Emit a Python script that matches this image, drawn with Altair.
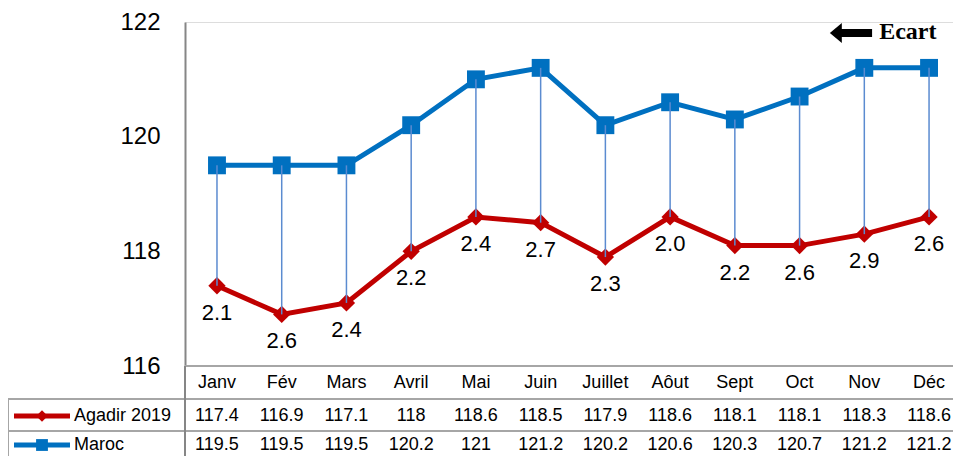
import altair as alt
import pandas as pd

months = ["Janv", "Fév", "Mars", "Avril", "Mai", "Juin", "Juillet", "Aôut", "Sept", "Oct", "Nov", "Déc"]
agadir = [117.4, 116.9, 117.1, 118, 118.6, 118.5, 117.9, 118.6, 118.1, 118.1, 118.3, 118.6]
maroc = [119.5, 119.5, 119.5, 120.2, 121, 121.2, 120.2, 120.6, 120.3, 120.7, 121.2, 121.2]
ecart = ["2.1", "2.6", "2.4", "2.2", "2.4", "2.7", "2.3", "2.0", "2.2", "2.6", "2.9", "2.6"]
series_names = ["Agadir 2019", "Maroc"]
y_ticks = [116, 118, 120, 122]

RED = "#C00000"
BLUE = "#0070C0"
DROP = "#5B8BD0"
GRID = "#A6A6A6"
AXIS = "#868686"
FONT = "Liberation Sans"

W, H = 768, 344
X_DOM = [-0.494, 11.37]
Y_DOM = [116, 122]

ROW_MONTH, ROW_AG, ROW_MA = 361, 394, 423
LINE1, LINE2 = 377, 409

df = pd.DataFrame({
    "idx": list(range(len(months))),
    "month": months,
    "agadir": agadir,
    "maroc": maroc,
    "ecart": ecart,
    "agadir_lbl": [f"{v:g}" for v in agadir],
    "maroc_lbl": [f"{v:g}" for v in maroc],
})

xs = alt.Scale(domain=X_DOM, nice=False, zero=False)
ys = alt.Scale(domain=Y_DOM, nice=False, zero=False)
X = alt.X("idx:Q", scale=xs, axis=None)

base = alt.Chart(df)

y_axis = alt.Axis(values=y_ticks, format="d", domain=True, domainColor=AXIS, domainWidth=2,
                  ticks=False, grid=False, labelFontSize=24, labelFont=FONT,
                  labelColor="#000000", labelPadding=25, title=None)

line_m = base.mark_line(color=BLUE, strokeWidth=5).encode(
    x=X, y=alt.Y("maroc:Q", scale=ys, axis=y_axis))
pts_m = base.mark_point(shape="square", filled=True, size=320, color=BLUE, opacity=1).encode(
    x=X, y=alt.Y("maroc:Q", scale=ys))
line_a = base.mark_line(color=RED, strokeWidth=5).encode(
    x=X, y=alt.Y("agadir:Q", scale=ys))
pts_a = base.mark_point(shape="diamond", filled=True, size=300, color=RED, opacity=1).encode(
    x=X, y=alt.Y("agadir:Q", scale=ys))
drops = base.mark_rule(color=DROP, strokeWidth=1.5).encode(
    x=X, y=alt.Y("maroc:Q", scale=ys), y2="agadir:Q")
labels = base.mark_text(dy=27, fontSize=22, font=FONT, color="#000000").encode(
    x=X, y=alt.Y("agadir:Q", scale=ys), text="ecart:N")

# table texts
t_month = base.mark_text(fontSize=18, font=FONT, color="#000000").encode(
    x=X, y=alt.value(ROW_MONTH), text="month:N")
t_ag = base.mark_text(fontSize=18, font=FONT, color="#000000").encode(
    x=X, y=alt.value(ROW_AG), text="agadir_lbl:N")
t_ma = base.mark_text(fontSize=18, font=FONT, color="#000000").encode(
    x=X, y=alt.value(ROW_MA), text="maroc_lbl:N")

one = alt.Chart(pd.DataFrame({"a": [0]}))

def hline(x1, x2, y, color=GRID, w=2):
    return one.mark_rule(color=color, strokeWidth=w).encode(
        x=alt.value(x1), x2=alt.value(x2), y=alt.value(y))

def vline(x, y1, y2, color=GRID, w=2):
    return one.mark_rule(color=color, strokeWidth=w).encode(
        x=alt.value(x), y=alt.value(y1), y2=alt.value(y2))

grid = [
    hline(0, W, 344),
    hline(-177, W, LINE1),
    hline(-177, W, LINE2),
    vline(-177, LINE1, 440),
    vline(0, 344, 440, color=AXIS),
]

# legend cells inside the table
leg_df = pd.DataFrame({"name": series_names, "color": [RED, BLUE]})
leg_a = alt.Chart(leg_df.iloc[[0]])
leg_m = alt.Chart(leg_df.iloc[[1]])
legend = [
    leg_a.mark_rule(color=RED, strokeWidth=5).encode(x=alt.value(-171), x2=alt.value(-115), y=alt.value(ROW_AG)),
    leg_a.mark_point(shape="diamond", filled=True, size=130, color=RED, opacity=1).encode(x=alt.value(-143), y=alt.value(ROW_AG)),
    leg_a.mark_text(align="left", fontSize=18, font=FONT, color="#000000").encode(x=alt.value(-111), y=alt.value(ROW_AG), text="name:N"),
    leg_m.mark_rule(color=BLUE, strokeWidth=5).encode(x=alt.value(-171), x2=alt.value(-115), y=alt.value(ROW_MA)),
    leg_m.mark_point(shape="square", filled=True, size=140, color=BLUE, opacity=1).encode(x=alt.value(-143), y=alt.value(ROW_MA)),
    leg_m.mark_text(align="left", fontSize=18, font=FONT, color="#000000").encode(x=alt.value(-111), y=alt.value(ROW_MA), text="name:N"),
]

# "Ecart" annotation with arrow
ann = alt.Chart(pd.DataFrame({"x0": [9.62], "x1": [10.12], "xh": [9.56], "xt": [10.23],
                              "y": [121.81], "yt": [121.83], "t": ["Ecart"]}))
annot = [
    ann.mark_rule(color="#000000", strokeWidth=8).encode(
        x=alt.X("x0:Q", scale=xs, axis=None), x2="x1:Q", y=alt.Y("y:Q", scale=ys)),
    ann.mark_point(shape="M 0.6 -1 L -0.6 0 L 0.6 1 Z", filled=True, size=400, color="#000000", opacity=1).encode(
        x=alt.X("xh:Q", scale=xs, axis=None), y=alt.Y("y:Q", scale=ys)),
    ann.mark_text(align="left", baseline="middle", fontSize=24, font="Liberation Serif",
                  fontWeight="bold", color="#000000").encode(
        x=alt.X("xt:Q", scale=xs, axis=None), y=alt.Y("yt:Q", scale=ys), text="t:N"),
]

chart = alt.layer(
    line_m, line_a, pts_m, pts_a, drops, labels, t_month, t_ag, t_ma,
    *grid, *legend, *annot
).properties(
    width=W, height=H,
    autosize=alt.AutoSizeParams(type="none"),
    padding={"left": 177, "top": 14, "right": 0, "bottom": 90},
).configure_view(stroke=None).configure(background="#ffffff")

chart.save("out.html", embed_options={"renderer": "svg", "actions": False})
